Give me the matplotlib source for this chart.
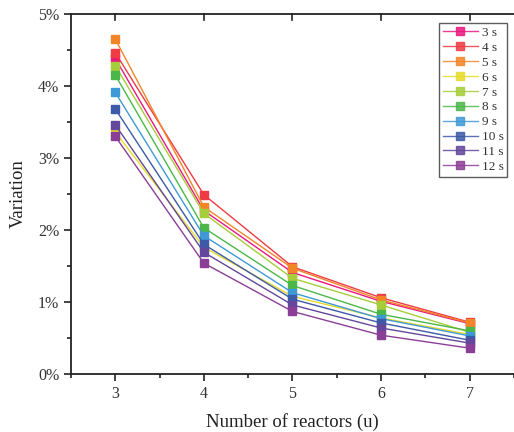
import matplotlib.pyplot as plt
from matplotlib.ticker import MultipleLocator, FuncFormatter

plt.rcParams['font.family'] = ['Liberation Serif', 'DejaVu Serif']

reactors = [3, 4, 5, 6, 7]
labels = ['3 s', '4 s', '5 s', '6 s', '7 s', '8 s', '9 s', '10 s', '11 s', '12 s']
colors = ['#E8187F', '#EE3B44', '#F28528', '#E6DC2A', '#A6CD3A',
          '#4BB749', '#3F99D6', '#3C5AA7', '#62479B', '#8B3E96']

# variation in percent, one list per step time
v3 = [4.38, 2.27, 1.41, 1.01, 0.70]
v4 = [4.46, 2.49, 1.49, 1.06, 0.72]
v5 = [4.65, 2.32, 1.47, 1.03, 0.71]
v6 = [3.36, 1.76, 1.08, 0.78, 0.55]
v7 = [4.28, 2.23, 1.33, 0.96, 0.58]
v8 = [4.15, 2.03, 1.23, 0.83, 0.60]
v9 = [3.91, 1.92, 1.13, 0.77, 0.53]
v10 = [3.68, 1.80, 1.04, 0.71, 0.47]
v11 = [3.46, 1.69, 0.96, 0.64, 0.43]
v12 = [3.30, 1.54, 0.87, 0.54, 0.36]
series = [v3, v4, v5, v6, v7, v8, v9, v10, v11, v12]

fig = plt.figure(figsize=(5.14, 4.32), dpi=100)
ax = fig.add_axes([0.138, 0.134, 0.862, 0.834])

for vals, lab, c in zip(series, labels, colors):
    ax.plot(reactors, vals, color=c, lw=1.0, marker='s', ms=6,
            mec=c, mfc=c, label=lab)

ax.set_xlim(2.5, 7.5)
ax.set_ylim(0, 5)
ax.xaxis.set_major_locator(MultipleLocator(1))
ax.xaxis.set_minor_locator(MultipleLocator(0.5))
ax.yaxis.set_major_locator(MultipleLocator(1))
ax.yaxis.set_minor_locator(MultipleLocator(0.5))
ax.yaxis.set_major_formatter(FuncFormatter(lambda v, p: f'{v:.0f}%'))

ax.tick_params(which='both', direction='out', width=1.2, labelsize=11.5,
               top=False, right=False, colors='#222222', labelcolor='#333333')
ax.tick_params(which='major', length=5)
ax.tick_params(which='minor', length=3)
for x in reactors:
    ax.plot([x, x], [5, 4.92], color='#222222', lw=1.2, clip_on=False)

for s in ax.spines.values():
    s.set_linewidth(1.3)
    s.set_color('#222222')
ax.spines['right'].set_visible(False)

ax.set_xlabel('Number of reactors (u)', fontsize=13.5, labelpad=8, color='#222222')
ax.set_ylabel('Variation', fontsize=13.5, labelpad=8, color='#222222')

leg = ax.legend(loc='upper right', bbox_to_anchor=(0.985, 0.975), fontsize=9.5,
                frameon=True, fancybox=False, edgecolor='#333333',
                handlelength=2.6, handletextpad=0.3, labelspacing=0.2,
                borderpad=0.3, borderaxespad=0)
leg.get_frame().set_linewidth(1.0)
for h in leg.legend_handles:
    h.set_alpha(0.85)
for t in leg.get_texts():
    t.set_color('#333333')

fig.savefig('out.png', dpi=100)
